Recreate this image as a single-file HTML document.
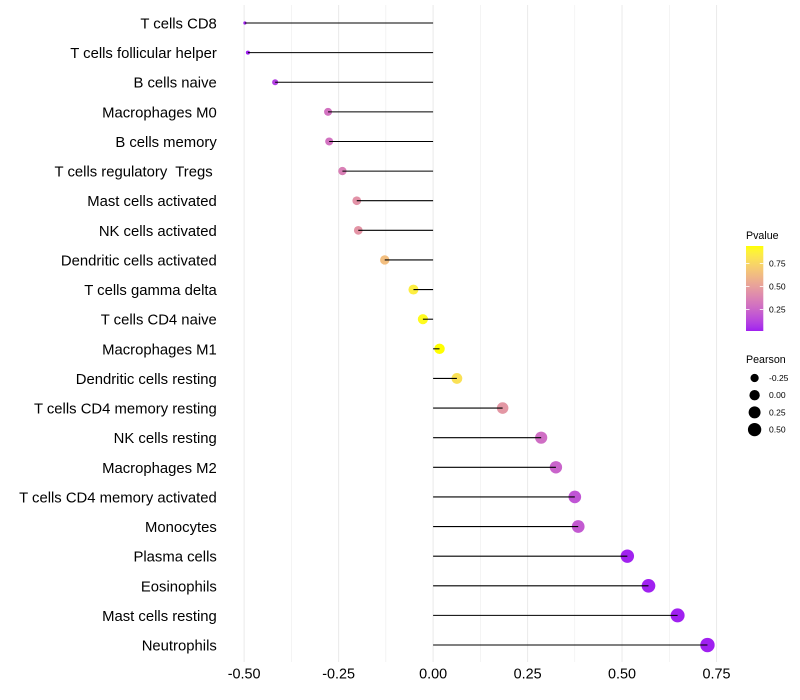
<!DOCTYPE html>
<html lang="en">
<head>
<meta charset="utf-8">
<title>Immune cell correlation lollipop chart</title>
<style>
html,body{margin:0;padding:0;background:#fff;width:800px;height:700px;overflow:hidden}
svg{display:block;font-family:"Liberation Sans",sans-serif}
text{white-space:pre}
</style>
</head>
<body>
<svg id="chart" width="800" height="700" viewBox="0 0 800 700" xmlns="http://www.w3.org/2000/svg">
<defs><linearGradient id="pvalue-gradient" x1="0" y1="1" x2="0" y2="0"></linearGradient></defs>
</svg>
<script>
const categories = ["T cells CD8","T cells follicular helper","B cells naive","Macrophages M0","B cells memory","T cells regulatory  Tregs ","Mast cells activated","NK cells activated","Dendritic cells activated","T cells gamma delta","T cells CD4 naive","Macrophages M1","Dendritic cells resting","T cells CD4 memory resting","NK cells resting","Macrophages M2","T cells CD4 memory activated","Monocytes","Plasma cells","Eosinophils","Mast cells resting","Neutrophils"];
const pearson = [-0.498,-0.49,-0.418,-0.278,-0.275,-0.24,-0.202,-0.198,-0.128,-0.052,-0.027,0.017,0.063,0.184,0.286,0.325,0.375,0.384,0.514,0.57,0.647,0.726];
const pvalue = [0.016,0.018,0.1,0.3,0.3,0.36,0.44,0.45,0.64,0.86,0.92,0.94,0.8,0.46,0.28,0.24,0.18,0.2,0.02,0.018,0.016,0.016];
const majorTicks = [-0.5,-0.25,0,0.25,0.5,0.75];
const majorTickLabels = ["-0.50","-0.25","0.00","0.25","0.50","0.75"];
const minorTicks = [-0.375,-0.125,0.125,0.375,0.625];
const pvalueLegendTicks = [0.25,0.5,0.75];
const pvalueLegendLabels = ["0.25","0.50","0.75"];
const pearsonLegendValues = [-0.25,0,0.25,0.5];
const pearsonLegendLabels = ["-0.25","0.00","0.25","0.50"];
const pvalueMin = 0.016;
const pvalueMax = 0.94;
const pearsonMin = -0.498;
const pearsonMax = 0.726;

const NS = "http://www.w3.org/2000/svg";
const svg = document.getElementById("chart");
function make(tag, attrs, text){
  const el = document.createElementNS(NS, tag);
  for (const k in attrs) el.setAttribute(k, attrs[k]);
  if (text !== undefined) el.textContent = text;
  svg.appendChild(el);
  return el;
}
function xScale(v){ return 433.1 + 377.9 * v; }
function yScale(i){ return 23 + i * 29.62; }
function sizeScale(v){
  const t = Math.max(0, (v - pearsonMin) / (pearsonMax - pearsonMin));
  return 3.2 + 11.2 * Math.sqrt(t);
}
function legendY(p){ return 331 - (p - pvalueMin) / (pvalueMax - pvalueMin) * 85; }

function rgb2lab(c){
  let [r,g,b] = c.map(v => { v/=255; return v>0.04045 ? Math.pow((v+0.055)/1.055,2.4) : v/12.92; });
  const x=(0.4124*r+0.3576*g+0.1805*b)/0.95047, y=0.2126*r+0.7152*g+0.0722*b, z=(0.0193*r+0.1192*g+0.9505*b)/1.08883;
  const f=t=>t>0.008856?Math.cbrt(t):7.787*t+16/116;
  return [116*f(y)-16, 500*(f(x)-f(y)), 200*(f(y)-f(z))];
}
function lab2rgb(l){
  const fy=(l[0]+16)/116, fx=l[1]/500+fy, fz=fy-l[2]/200;
  const g=t=>{const c=t*t*t;return c>0.008856?c:(t-16/116)/7.787;};
  const x=g(fx)*0.95047, y=g(fy), z=g(fz)*1.08883;
  const lin=[3.2406*x-1.5372*y-0.4986*z, -0.9689*x+1.8758*y+0.0415*z, 0.0557*x-0.2040*y+1.0570*z];
  const out=lin.map(v=>{v=Math.min(1,Math.max(0,v));v=v>0.0031308?1.055*Math.pow(v,1/2.4)-0.055:12.92*v;return Math.round(v*255);});
  return "rgb("+out.join(",")+")";
}
const labLow = rgb2lab([160,32,240]);
const labHigh = rgb2lab([255,255,0]);
function colorScale(p){
  const t = Math.min(1, Math.max(0, (p - pvalueMin) / (pvalueMax - pvalueMin)));
  return lab2rgb(labLow.map((a,i)=>a+(labHigh[i]-a)*t));
}

minorTicks.forEach(v => {
  const el = make("line",{x1:xScale(v),x2:xScale(v),y1:5,y2:662,stroke:"#ebebeb","stroke-width":0.55});
  
  
});
majorTicks.forEach((v,i) => {
  const el = make("line",{x1:xScale(v),x2:xScale(v),y1:5,y2:662,stroke:"#ebebeb","stroke-width":1.07});
  
  
  const lab = make("text",{x:xScale(v),y:678.3,"text-anchor":"middle","font-size":14.4,fill:"#000"},majorTickLabels[i]);
  
  
});
categories.forEach((c,i) => {
  const lab = make("text",{x:216.8,y:yScale(i)+5.5,"text-anchor":"end","font-size":14.85,fill:"#000"},c);
  
  
  const d = sizeScale(pearson[i]);
  const pt = make("circle",{cx:xScale(pearson[i]),cy:yScale(i),r:d/2,fill:colorScale(pvalue[i])});
  
  
});
categories.forEach((c,i) => {
  const seg = make("line",{x1:xScale(0),x2:xScale(pearson[i]),y1:yScale(i),y2:yScale(i),stroke:"#000","stroke-width":1.07});
  
  
});

const grad = document.getElementById("pvalue-gradient");
for (let k = 0; k <= 20; k++){
  const s = document.createElementNS(NS,"stop");
  s.setAttribute("offset", (k/20));
  s.setAttribute("stop-color", colorScale(pvalueMin + (pvalueMax-pvalueMin)*k/20));
  grad.appendChild(s);
}
const pTitle = make("text",{x:746,y:239,"font-size":10.67,fill:"#000"},"Pvalue");


const bar = make("rect",{x:746,y:246,width:17.3,height:85,fill:"url(#pvalue-gradient)"});


pvalueLegendTicks.forEach((p,i) => {
  const y = legendY(p);
  const t1 = make("line",{x1:746,x2:749.5,y1:y,y2:y,stroke:"#fff","stroke-width":0.8});
  
  
  const t2 = make("line",{x1:759.8,x2:763.3,y1:y,y2:y,stroke:"#fff","stroke-width":0.8});
  
  
  const lab = make("text",{x:769,y:y+3,"font-size":8.53,fill:"#000"},pvalueLegendLabels[i]);
  
  
});
const sTitle = make("text",{x:746,y:363,"font-size":10.67,fill:"#000"},"Pearson");


pearsonLegendValues.forEach((v,i) => {
  const y = 378 + i * 17.2;
  const pt = make("circle",{cx:754.6,cy:y,r:sizeScale(v)/2,fill:"#000"});
  
  
  const lab = make("text",{x:769,y:y+3,"font-size":8.53,fill:"#000"},pearsonLegendLabels[i]);
  
  
});
</script>
</body>
</html>
